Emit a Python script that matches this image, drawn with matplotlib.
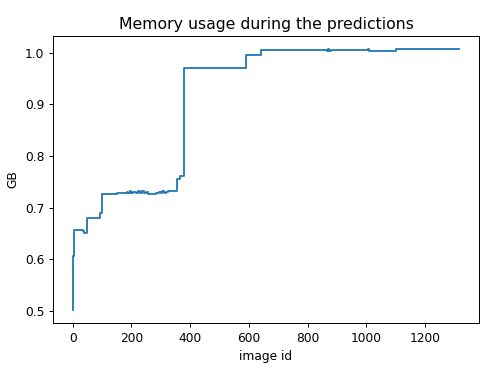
import matplotlib.pyplot as plt

# memory usage per image (breakpoints of a piecewise constant curve)
image_ids = [0, 1, 3, 20, 34, 38, 50, 92, 100, 150, 185, 190, 195, 200, 205,
             215, 222, 228, 235, 242, 250, 258, 270, 285, 295, 300, 305, 310,
             318, 325, 350, 355, 365, 378, 500, 588, 590, 635, 640, 800, 860,
             866, 870, 874, 880, 1005, 1008, 1100, 1317]
memory_gb = [0.502, 0.606, 0.657, 0.657, 0.655, 0.651, 0.679, 0.690, 0.727,
             0.728, 0.731, 0.729, 0.732, 0.729, 0.731, 0.728, 0.732, 0.729,
             0.732, 0.728, 0.731, 0.727, 0.727, 0.728, 0.731, 0.728, 0.732,
             0.729, 0.731, 0.733, 0.733, 0.756, 0.762, 0.970, 0.970, 0.971,
             0.995, 0.995, 1.005, 1.006, 1.006, 1.004, 1.008, 1.004, 1.006,
             1.008, 1.003, 1.007, 1.008]

fig = plt.figure(figsize=(4.9, 3.74), dpi=100)
ax = fig.add_axes([0.1088, 0.137, 0.8682, 0.7675])

ax.plot(image_ids, memory_gb, drawstyle='steps-post', color='#1f77b4', linewidth=1.3)

ax.set_title('Memory usage during the predictions', fontsize=11.3, pad=5)
ax.set_xlabel('image id', fontsize=8.8)
ax.set_ylabel('GB', fontsize=8.8)
ax.tick_params(labelsize=8.8, width=0.7, length=3)
ax.set_yticks([0.5, 0.6, 0.7, 0.8, 0.9, 1.0])
for s in ax.spines.values():
    s.set_linewidth(0.7)

fig.savefig('out.png', dpi=100)
